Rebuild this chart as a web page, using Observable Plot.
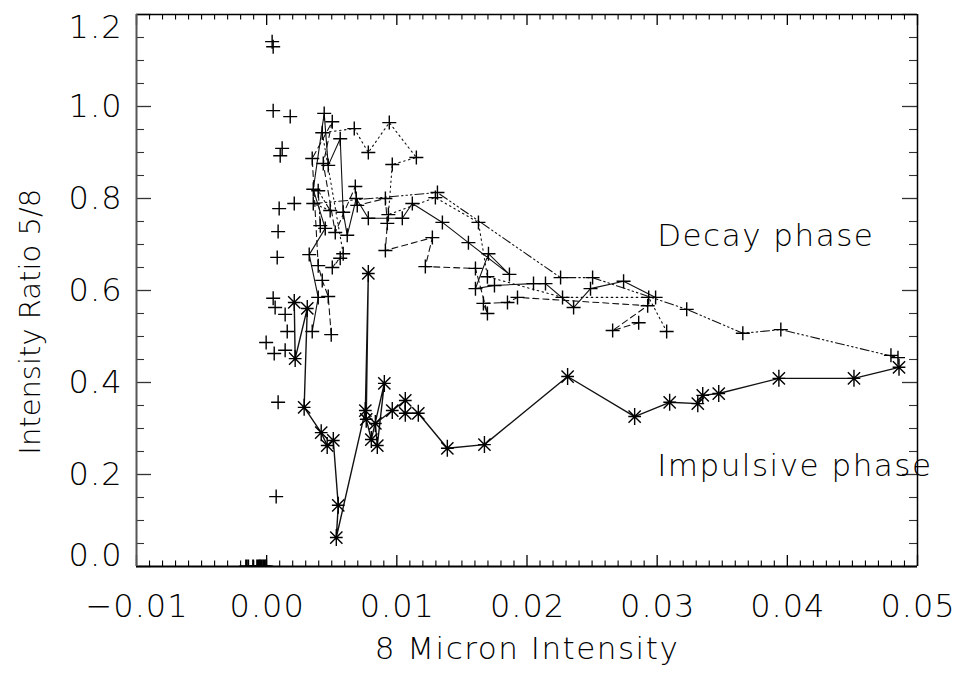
<!DOCTYPE html>
<html>
<head>
<meta charset="utf-8">
<script src="https://cdn.jsdelivr.net/npm/d3@7"></script>
<script src="https://cdn.jsdelivr.net/npm/@observablehq/plot@0.6"></script>
<style>
  html, body { margin: 0; padding: 0; background: #fff; }
  svg { display: block; }
  .ls15 text, text.ls15, g.ls15 { letter-spacing: 1.5px; }
  .ls1 text, text.ls1, g.ls1 { letter-spacing: 1px; }
</style>
</head>
<body>
<div id="chart"></div>
<script>
// ---- tick values ----
const xTickValues = [-0.01, 0.00, 0.01, 0.02, 0.03, 0.04, 0.05];
const yTickValues = [0.0, 0.2, 0.4, 0.6, 0.8, 1.0, 1.2];
const xLabel = "8 Micron Intensity";
const yLabel = "Intensity Ratio 5/8";
const annotations = ["Decay phase", "Impulsive phase"];

// ---- impulsive phase (asterisks, solid line) [x, ratio] ----
const impulsive = [
  [0.00212,0.574],[0.00219,0.452],[0.00312,0.561],[0.00288,0.346],[0.00419,0.291],
  [0.00465,0.263],[0.00512,0.274],[0.00550,0.133],[0.00535,0.063],[0.00758,0.339],
  [0.00781,0.637],[0.00765,0.320],[0.00804,0.276],[0.00904,0.398],[0.00850,0.263],
  [0.00835,0.311],[0.00965,0.339],[0.01065,0.361],[0.01065,0.333],[0.01165,0.333],
  [0.01388,0.257],[0.01673,0.265],[0.02312,0.413],[0.02827,0.326],[0.03096,0.357],
  [0.03312,0.354],[0.03350,0.372],[0.03473,0.376],[0.03935,0.409],[0.04512,0.409],
  [0.04858,0.433]
];

// ---- decay phase (plus signs), several passes with different line styles ----
const decaySolid = [
  [0.0035,0.511],[0.00396,0.585],[0.00327,0.678],[0.0045,0.735],[0.00358,0.820],
  [0.00442,0.985],[0.00473,0.872],[0.00565,0.930],[0.00588,0.770],[0.00619,0.720],
  [0.00688,0.800],[0.00781,0.757],[0.01042,0.757],[0.01119,0.789],[0.0135,0.748],
  [0.0155,0.704],[0.01865,0.635],[0.01704,0.680],[0.01604,0.604],[0.0175,0.611],
  [0.0205,0.615],[0.02142,0.615],[0.02358,0.563],[0.02488,0.604],[0.02742,0.620],
  [0.02988,0.585]
];
const decayDashed = [
  [0.00496,0.504],[0.00473,0.587],[0.00427,0.622],[0.00396,0.654],[0.0035,0.887],
  [0.00504,0.967],[0.00435,0.876],[0.00527,0.726],[0.00681,0.826],[0.00696,0.785],
  [0.00912,0.800],[0.00927,0.746],[0.00912,0.687],[0.01273,0.715],[0.01219,0.652],
  [0.01604,0.648],[0.01696,0.550],[0.01665,0.572],[0.0185,0.574],[0.01927,0.585],
  [0.02927,0.567],[0.02658,0.513],[0.02858,0.530]
];
const decayDotted = [
  [0.00565,0.670],[0.00504,0.650],[0.00588,0.680],[0.00427,0.943],[0.00673,0.952],
  [0.00781,0.900],[0.00942,0.965],[0.0115,0.889],[0.00965,0.874],[0.00935,0.765],
  [0.01296,0.802],[0.01627,0.748],[0.01696,0.630],[0.02273,0.585],[0.02935,0.585],
  [0.03073,0.511]
];
const decayDashDot = [
  [0.00412,0.741],[0.00396,0.817],[0.00488,0.774],[0.00358,0.789],[0.01312,0.813],
  [0.02258,0.628],[0.02504,0.628],[0.03227,0.559],[0.03658,0.507],[0.0395,0.515],
  [0.0485,0.454],[0.04796,0.459]
];
// symbols drawn without connecting lines
const decayIsolated = [
  [0.00042,1.141],[0.0005,1.130],[0.0005,0.991],[0.00181,0.978],[0.00119,0.909],
  [0.00104,0.893],[0.00096,0.778],[0.00212,0.789],[0.00088,0.728],[0.00081,0.672],
  [0.0005,0.583],[0.00065,0.563],[0.00142,0.548],[0.00158,0.511],[-0.00004,0.487],
  [0.00058,0.463],[0.00142,0.470],[0.00088,0.357],[0.00073,0.152]
];
// points sitting on the zero line
const zeroPoints = [
  [-0.00158,0],[-0.00142,0],[-0.00104,0],[-0.00073,0],[-0.0006,0],[-0.0005,0],
  [-0.0004,0],[-0.00027,0],[-0.00015,0],[-0.00004,0]
];

// ---- layout ----
const W = 961, H = 678;
const mL = 136, mR = 44, mT = 14, mB = 112;
const xDomain = [-0.01, 0.05], yDomain = [0, 1.2];
const pxPerX = (W - mL - mR) / (xDomain[1] - xDomain[0]);
const pxPerY = (H - mT - mB) / (yDomain[1] - yDomain[0]);
const FONT = "'DejaVu Sans', Lato, sans-serif";
const FW = 200;

// custom stroke symbols
const plusSym = { draw(ctx, size) { const r = Math.sqrt(size / Math.PI);
  ctx.moveTo(-r, 0); ctx.lineTo(r, 0); ctx.moveTo(0, -r); ctx.lineTo(0, r); } };
const starSym = { draw(ctx, size) { const r = Math.sqrt(size / Math.PI); const d = r * 0.72;
  ctx.moveTo(0, -r); ctx.lineTo(0, r); ctx.moveTo(-r*0.75, 0); ctx.lineTo(r*0.75, 0);
  ctx.moveTo(-d, -d); ctx.lineTo(d, d); ctx.moveTo(-d, d); ctx.lineTo(d, -d); } };

const minorX = d3.range(-10, 51).map(i => i / 1000).filter(v => !xTickValues.some(t => Math.abs(t - v) < 1e-9));
const minorY = d3.range(0, 25).map(i => i * 0.05).filter(v => !yTickValues.some(t => Math.abs(t - v) < 1e-9));

const xMaj = 11 / pxPerY, xMin = 5.5 / pxPerY;   // tick lengths on horizontal axes (data units of y)
const yMaj = 15 / pxPerX, yMin = 8 / pxPerX;     // tick lengths on vertical axes (data units of x)

const fmtX = d3.format(".2f");
const fmtY = d => d.toFixed(1);
// end labels of the y axis are nudged inward, as in the reference
const yLabelDy = d => d === 0 ? -11 : d === 1.2 ? 13 : 0;

const lineOpts = {x: d => d[0], y: d => d[1], stroke: "#111", strokeWidth: 1.1};
const plusOpts = {x: d => d[0], y: d => d[1], symbol: plusSym, r: 7, fill: "none", stroke: "#000", strokeWidth: 1.4};
const txt = {fill: "#000", fontFamily: FONT, fontWeight: FW};

const chart = Plot.plot({
  width: W, height: H,
  marginLeft: mL, marginRight: mR, marginTop: mT, marginBottom: mB,
  x: {domain: xDomain, axis: null},
  y: {domain: yDomain, axis: null},
  style: {fontFamily: FONT, background: "#fff", color: "#000"},
  marks: [
    // decay phase lines
    Plot.line(decaySolid, {...lineOpts}),
    Plot.line(decayDashed, {...lineOpts, strokeDasharray: "6,4"}),
    Plot.line(decayDotted, {...lineOpts, strokeDasharray: "1.5,3.5"}),
    Plot.line(decayDashDot, {...lineOpts, strokeDasharray: "9,3,1.5,3,1.5,3,1.5,3"}),
    // decay phase symbols
    Plot.dot(decaySolid, plusOpts),
    Plot.dot(decayDashed, plusOpts),
    Plot.dot(decayDotted, plusOpts),
    Plot.dot(decayDashDot, plusOpts),
    Plot.dot(decayIsolated, plusOpts),
    Plot.dot(zeroPoints, {...plusOpts, clip: true, strokeWidth: 2}),
    // impulsive phase
    Plot.line(impulsive, {...lineOpts, strokeWidth: 1.4}),
    Plot.dot(impulsive, {x: d => d[0], y: d => d[1], symbol: starSym, r: 8.5, fill: "none", stroke: "#000", strokeWidth: 1.4}),
    // ticks: bottom & top
    Plot.ruleX(xTickValues, {x: d => d, y1: 0, y2: xMaj, stroke: "#000", strokeWidth: 1.3}),
    Plot.ruleX(minorX, {x: d => d, y1: 0, y2: xMin, stroke: "#000", strokeWidth: 1.1}),
    Plot.ruleX(xTickValues, {x: d => d, y1: 1.2, y2: 1.2 - xMaj, stroke: "#000", strokeWidth: 1.3}),
    Plot.ruleX(minorX, {x: d => d, y1: 1.2, y2: 1.2 - xMin, stroke: "#000", strokeWidth: 1.1}),
    // ticks: left & right
    Plot.ruleY(yTickValues, {y: d => d, x1: -0.01, x2: -0.01 + yMaj, stroke: "#333", strokeWidth: 1.3}),
    Plot.ruleY(minorY, {y: d => d, x1: -0.01, x2: -0.01 + yMin, stroke: "#333", strokeWidth: 1.1}),
    Plot.ruleY(yTickValues, {y: d => d, x1: 0.05, x2: 0.05 - yMaj, stroke: "#333", strokeWidth: 1.3}),
    Plot.ruleY(minorY, {y: d => d, x1: 0.05, x2: 0.05 - yMin, stroke: "#333", strokeWidth: 1.1}),
    // frame
    Plot.ruleY([0], {stroke: "#000", strokeWidth: 2}),
    Plot.ruleY([1.2], {stroke: "#000", strokeWidth: 1.5}),
    Plot.ruleX([-0.01], {stroke: "#555", strokeWidth: 2}),
    Plot.ruleX([0.05], {stroke: "#000", strokeWidth: 1.5}),
    // tick labels
    Plot.text(xTickValues, {x: d => d, y: 0, dy: 40, dx: 0.5, text: d => fmtX(d), fontSize: 32, className: "ls1", ...txt}),
    ...yTickValues.map(v => Plot.text([v], {x: -0.01, y: d => d, dx: -14, dy: yLabelDy(v), textAnchor: "end", text: d => fmtY(d), fontSize: 32, className: "ls1", ...txt})),
    // axis titles
    Plot.text([xLabel], {x: 0.02, y: 0, dy: 83, text: d => d, fontSize: 31, className: "ls15", ...txt}),
    Plot.text([yLabel], {x: -0.01, y: 0.532, dx: -106, rotate: -90, text: d => d, fontSize: 29, ...txt}),
    // annotations
    Plot.text([annotations[0]], {x: 0.0300, y: 0.718, textAnchor: "start", text: d => d, fontSize: 31, className: "ls15", ...txt}),
    Plot.text([annotations[1]], {x: 0.0300, y: 0.218, textAnchor: "start", text: d => d, fontSize: 31, className: "ls15", ...txt})
  ]
});
document.getElementById("chart").appendChild(chart);
</script>
</body>
</html>
